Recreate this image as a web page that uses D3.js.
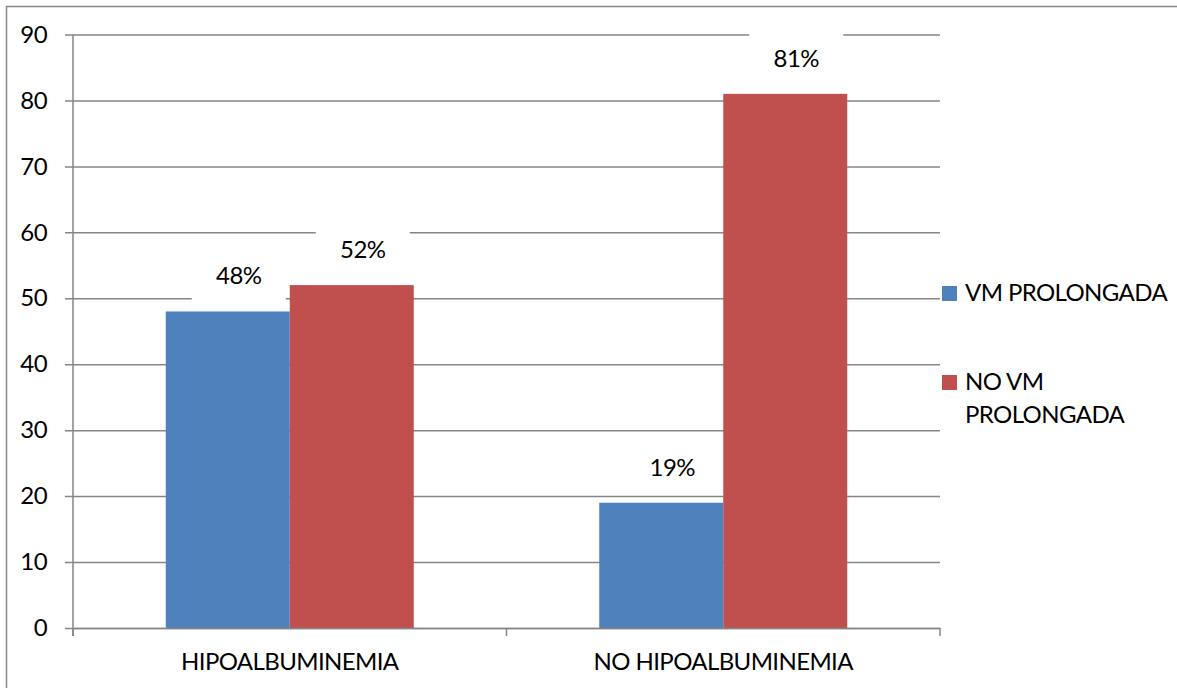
<!DOCTYPE html>
<html>
<head>
<meta charset="utf-8">
<script src="https://cdn.jsdelivr.net/npm/d3@7"></script>
<style>
  body { margin: 0; background: #fff; }
  text { font-family: Lato, "Open Sans", sans-serif; fill: #000; letter-spacing: -0.6px; }
</style>
</head>
<body>
<script>
'use strict';

// chart data
const categories = ["HIPOALBUMINEMIA", "NO HIPOALBUMINEMIA"];
const seriesNames = ["VM PROLONGADA", "NO VM PROLONGADA"];
const vmProlongada = [48, 19];
const noVmProlongada = [52, 81];
const yTicks = [0, 10, 20, 30, 40, 50, 60, 70, 80, 90];

const colors = ["#4F81BD", "#C0504D"];
const gridColor = "#868686";

const W = 1177, H = 688;
const plot = { left: 73, right: 940, top: 34.5, bottom: 628 };

const svg = d3.select('body')
  .append('svg')
  .attr('width', W)
  .attr('height', H);

// outer frame (top + left visible, rest runs off the picture)
svg.append('rect')
  .attr('x', 6.5).attr('y', 6.5)
  .attr('width', W + 10).attr('height', H + 10)
  .attr('fill', 'none')
  .attr('stroke', '#898989')
  .attr('stroke-width', 1.5);

// scales
const y = d3.scaleLinear().domain([0, 90]).range([plot.bottom, plot.top]);
const x0 = d3.scaleBand().domain(categories).range([plot.left, plot.right]);
const x1 = d3.scaleBand().domain(seriesNames)
  .range([0, x0.bandwidth()])
  .paddingOuter(0.748);

// gridlines with tick stubs
const yAxis = d3.axisLeft(y)
  .tickValues(yTicks)
  .tickSize(-(plot.right - plot.left))
  .tickPadding(26)
  .tickFormat(d3.format('d'));

const gy = svg.append('g')
  .attr('transform', 'translate(' + plot.left + ',0)')
  .call(yAxis);
gy.select('.domain').remove();
gy.selectAll('.tick line')
  .attr('x1', -8)
  .attr('stroke', gridColor)
  .attr('stroke-width', 1.5);
gy.selectAll('.tick text')
  .style('font-size', '24px');

// y axis line
svg.append('line')
  .attr('x1', plot.left).attr('x2', plot.left)
  .attr('y1', plot.top).attr('y2', plot.bottom + 8)
  .attr('stroke', gridColor)
  .attr('stroke-width', 1.5);

// bars
const rows = categories.map((c, i) => ({
  cat: c,
  vals: [vmProlongada[i], noVmProlongada[i]]
}));

const groups = svg.selectAll('.grp')
  .data(rows)
  .enter()
  .append('g')
  .attr('transform', (d) => 'translate(' + x0(d.cat) + ',0)');

groups.selectAll('rect.bar')
  .data((d) => d.vals.map((v, j) => ({ name: seriesNames[j], v: v, j: j })))
  .enter()
  .append('rect')
  .attr('class', 'bar')
  .attr('x', (d) => x1(d.name))
  .attr('y', (d) => y(d.v))
  .attr('width', x1.bandwidth())
  .attr('height', (d) => y(0) - y(d.v))
  .attr('fill', (d) => colors[d.j]);

// x axis line with category ticks
const xAxis = d3.axisBottom(x0).tickSize(0).tickPadding(25);
const gx = svg.append('g')
  .attr('transform', 'translate(0,' + plot.bottom + ')')
  .call(xAxis);
gx.select('.domain')
  .attr('stroke', gridColor)
  .attr('stroke-width', 1.5);
gx.selectAll('.tick text')
  .style('font-size', '24px');

const edges = [plot.left, plot.left + x0.bandwidth(), plot.right];
svg.selectAll('.xtick')
  .data(edges)
  .enter()
  .append('line')
  .attr('x1', (d) => d).attr('x2', (d) => d)
  .attr('y1', plot.bottom).attr('y2', plot.bottom + 8)
  .attr('stroke', gridColor)
  .attr('stroke-width', 1.5);

// data labels on white boxes
const labelData = [];
rows.forEach((r) => {
  r.vals.forEach((v, j) => {
    labelData.push({ cx: x0(r.cat) + x1(seriesNames[j]) + x1.bandwidth() / 2 + 11, v: v });
  });
});

const lab = svg.selectAll('.lab')
  .data(labelData)
  .enter()
  .append('g');

lab.append('rect')
  .attr('x', (d) => d.cx - 47)
  .attr('y', (d) => y(d.v) - 68)
  .attr('width', 94)
  .attr('height', 60)
  .attr('fill', '#fff');

lab.append('text')
  .attr('x', (d) => d.cx)
  .attr('y', (d) => y(d.v) - 27)
  .attr('text-anchor', 'middle')
  .style('font-size', '24px')
  .text((d) => d.v + '%');

// legend
const legend = svg.append('g');
legend.append('rect')
  .attr('x', 942).attr('y', 286)
  .attr('width', 15).attr('height', 15)
  .attr('fill', colors[0]);
legend.append('text')
  .attr('x', 965).attr('y', 301)
  .style('font-size', '24px')
  .text(seriesNames[0]);

legend.append('rect')
  .attr('x', 942).attr('y', 375)
  .attr('width', 15).attr('height', 15)
  .attr('fill', colors[1]);
const t2 = legend.append('text')
  .attr('x', 965).attr('y', 390)
  .style('font-size', '24px');
t2.append('tspan').attr('x', 965).text('NO VM');
t2.append('tspan').attr('x', 965).attr('dy', 32.7).text('PROLONGADA');
</script>
</body>
</html>
